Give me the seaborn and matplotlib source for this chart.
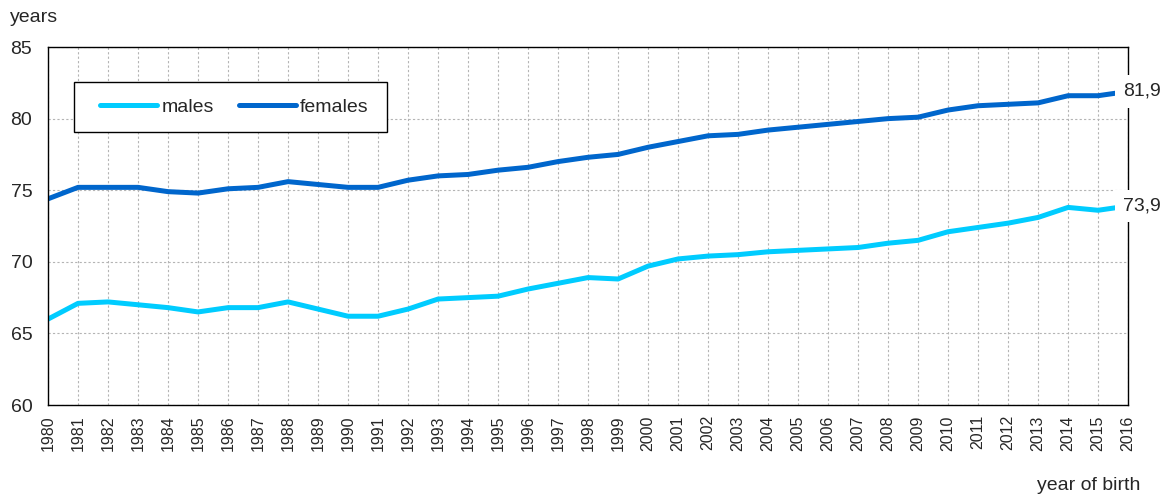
import pandas as pd
import matplotlib.pyplot as plt
from matplotlib.patches import Rectangle
import seaborn as sns

# life expectancy at birth
years = list(range(1980, 2017))
males = [66.0, 67.1, 67.2, 67.0, 66.8, 66.5, 66.8, 66.8, 67.2, 66.7, 66.2, 66.2,
         66.7, 67.4, 67.5, 67.6, 68.1, 68.5, 68.9, 68.8, 69.7, 70.2, 70.4, 70.5,
         70.7, 70.8, 70.9, 71.0, 71.3, 71.5, 72.1, 72.4, 72.7, 73.1, 73.8, 73.6, 73.9]
females = [74.4, 75.2, 75.2, 75.2, 74.9, 74.8, 75.1, 75.2, 75.6, 75.4, 75.2, 75.2,
           75.7, 76.0, 76.1, 76.4, 76.6, 77.0, 77.3, 77.5, 78.0, 78.4, 78.8, 78.9,
           79.2, 79.4, 79.6, 79.8, 80.0, 80.1, 80.6, 80.9, 81.0, 81.1, 81.6, 81.6, 81.9]
series_names = ["males", "females"]
y_ticks = [60, 65, 70, 75, 80, 85]

COLORS = {"males": "#00CCFF", "females": "#0066CC"}
FS = 14

sns.set_theme(style="white")
plt.rcParams["font.family"] = ["Liberation Sans", "DejaVu Sans"]

df = pd.DataFrame({"year": years, "males": males, "females": females})
long_df = df.melt(id_vars="year", value_vars=series_names, var_name="sex", value_name="years")

fig = plt.figure(figsize=(11.69, 4.95), dpi=100)
ax = fig.add_axes([0.0411, 0.1818, 0.9239, 0.7232])

sns.lineplot(data=long_df, x="year", y="years", hue="sex", hue_order=series_names,
             palette=COLORS, linewidth=3.6, ax=ax, legend=False)

ax.set_xlim(years[0], years[-1])
ax.set_ylim(y_ticks[0], y_ticks[-1])
ax.set_xticks(years)
ax.set_xticklabels([str(y) for y in years], rotation=90, fontsize=11.5)
ax.set_yticks(y_ticks)
ax.set_yticklabels([str(v) for v in y_ticks], fontsize=FS)
ax.tick_params(axis="x", direction="out", length=3, width=1, color="black", pad=4.3)
ax.tick_params(axis="y", direction="out", length=4.3, width=1, color="black", pad=7)
ax.set_xlabel("")
ax.set_ylabel("")

ax.grid(True, linestyle=(0, (2, 2)), color="#b4b4b4", linewidth=0.8)
for side in ["left", "bottom", "top", "right"]:
    ax.spines[side].set_visible(True)
    ax.spines[side].set_color("black")
    ax.spines[side].set_linewidth(1.0)

# end-of-line value labels with white box covering the line end
for name, vals in [("females", females), ("males", males)]:
    ax.annotate(f"{vals[-1]:.1f}".replace(".", ","), xy=(years[-1], vals[-1]),
                xytext=(-5, 0), textcoords="offset pixels", ha="left", va="center",
                fontsize=FS, annotation_clip=False, zorder=5,
                bbox=dict(boxstyle="square,pad=0.4", fc="white", ec="none"))

# legend box (frame drawn separately to get the padding of the original)
ax.add_patch(Rectangle((26 / 1080, 273 / 358), 313 / 1080, 50 / 358, transform=ax.transAxes,
                       facecolor="white", edgecolor="black", linewidth=1.0, zorder=4))
handles = [plt.Line2D([], [], color=COLORS[n], linewidth=3.6, solid_capstyle="round")
           for n in series_names]
leg = ax.legend(handles, series_names, loc="center left", bbox_to_anchor=(52 / 1080, 298 / 358),
                ncol=2, fontsize=FS, frameon=False, borderaxespad=0, borderpad=0,
                handlelength=2.95, handletextpad=0.2, columnspacing=1.3)
leg.set_zorder(5)

fig.text(10 / 1169, 1 - 18 / 495, "years", fontsize=FS, va="center", ha="left")
fig.text(1140 / 1169, 1 - 486 / 495, "year of birth", fontsize=FS, va="center", ha="right")

fig.savefig("out.png", dpi=100)
